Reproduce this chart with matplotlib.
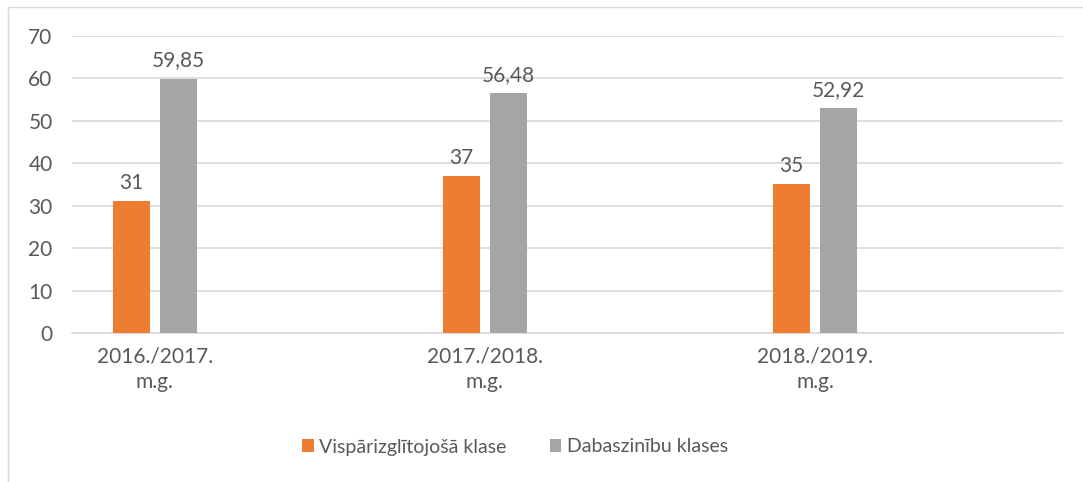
import numpy as np
import matplotlib.pyplot as plt
from matplotlib.patches import Rectangle

plt.rcParams['font.family'] = ['Lato', 'DejaVu Sans']

categories = ['2016./2017.\nm.g.', '2017./2018.\nm.g.', '2018./2019.\nm.g.']
visparizglitojosa = [31, 37, 35]
dabaszinibu = [59.85, 56.48, 52.92]
series_names = ['Vispārizglītojošā klase', 'Dabaszinību klases']

orange = '#ED7D31'
gray = '#A5A5A5'
text_col = '#595959'
fs = 15

fig = plt.figure(figsize=(10.83, 4.82), dpi=100)
fig.patches.append(Rectangle((8 / 1083, -0.1), 1.2, 1 - 7 / 482 + 0.1,
                             transform=fig.transFigure, fill=False,
                             edgecolor='#D9D9D9', linewidth=1))
ax = fig.add_axes([72 / 1083, 1 - 333 / 482, (1063 - 72) / 1083, (333 - 35.7) / 482])

x = np.arange(len(categories))
w = 0.112
off = 0.0712
b1 = ax.bar(x - off, visparizglitojosa, w, color=orange, label=series_names[0], zorder=3)
b2 = ax.bar(x + off, dabaszinibu, w, color=gray, label=series_names[1], zorder=3)

def fmt(v):
    return ('%g' % v).replace('.', ',')

for bars, vals in ((b1, visparizglitojosa), (b2, dabaszinibu)):
    for r, v in zip(bars, vals):
        ax.annotate(fmt(v), (r.get_x() + r.get_width() / 2, v), xytext=(0, 6),
                    textcoords='offset points', ha='center', va='bottom',
                    fontsize=fs, color=text_col)

ax.set_xlim(-0.25, 2.75)
ax.set_ylim(0, 70)
ax.set_yticks(range(0, 71, 10))
ax.set_xticks(x)
ax.set_xticklabels(categories, fontsize=fs, color=text_col, linespacing=1.35)
ax.tick_params(axis='y', labelsize=fs, labelcolor=text_col, length=0, pad=14)
ax.tick_params(axis='x', length=0, pad=10)
ax.yaxis.grid(True, color='#D9D9D9', linewidth=1.2, zorder=0)
for s in ['top', 'right', 'left']:
    ax.spines[s].set_visible(False)
ax.spines['bottom'].set_color('#D9D9D9')
ax.spines['bottom'].set_linewidth(1.2)

fig.legend(handles=[b1, b2], loc='center', bbox_to_anchor=(515 / 1083, 1 - 447 / 482),
           ncol=2, frameon=False, fontsize=14, labelcolor=text_col,
           handlelength=0.6, handleheight=0.6, handletextpad=0.3, columnspacing=2.2)

fig.savefig('out.png', dpi=100)
